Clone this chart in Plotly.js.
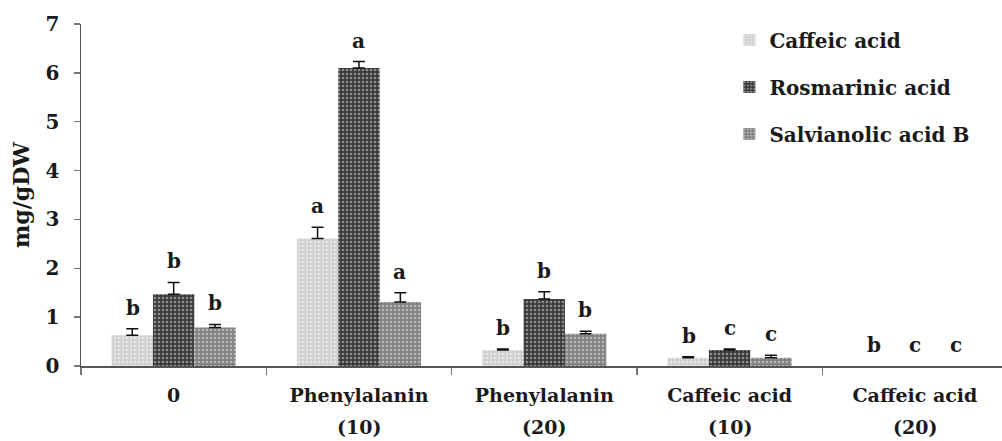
<!DOCTYPE html>
<html><head><meta charset="utf-8">
<script src="https://cdn.plot.ly/plotly-3.0.1.min.js"></script>
<style>html,body{margin:0;padding:0;background:#fff;}#chart{width:1002px;height:441px;}</style>
</head><body><div id="chart"></div>
<script>
const categories = ["0", "Phenylalanin (10)", "Phenylalanin (20)", "Caffeic acid (10)", "Caffeic acid (20)"];
const tickLine1 = ["0", "Phenylalanin", "Phenylalanin", "Caffeic acid", "Caffeic acid"];
const tickLine2 = ["", "(10)", "(20)", "(10)", "(20)"];
const seriesNames = ["Caffeic acid", "Rosmarinic acid", "Salvianolic acid B"];
// null = not detected (no bar drawn)
const caffeic = [0.63, 2.61, 0.33, 0.17, null];
const rosmarinic = [1.47, 6.10, 1.37, 0.33, null];
const salvianolic = [0.79, 1.31, 0.66, 0.17, null];
const caffeicErr = [0.13, 0.23, 0.02, 0.02, 0];
const rosmarinicErr = [0.24, 0.13, 0.15, 0.02, 0];
const salvianolicErr = [0.06, 0.19, 0.05, 0.05, 0];
const caffeicLetters = ["b", "a", "b", "b", "b"];
const rosmarinicLetters = ["b", "a", "b", "c", "c"];
const salvianolicLetters = ["b", "a", "b", "c", "c"];

const values = [caffeic, rosmarinic, salvianolic];
const errs = [caffeicErr, rosmarinicErr, salvianolicErr];
const letters = [caffeicLetters, rosmarinicLetters, salvianolicLetters];
const fills = ["#d0d0d0", "#3a3a3a", "#828282"];
const dots = ["#e8e8e8", "#8e8e8e", "#b4b4b4"];

const font = "DejaVu Serif, Liberation Serif, serif";
const ink = "#1a1a1a";
const traces = values.map((v, i) => ({
  type: "bar", name: seriesNames[i], x: categories, y: v,
  legendgroup: "g" + i,
  marker: {color: fills[i], line: {width: 0},
    pattern: {shape: ".", fgcolor: dots[i], bgcolor: fills[i], size: 4, solidity: 0.35}},
  error_y: {type: "data", array: errs[i], arrayminus: errs[i].map(() => 0), symmetric: false,
    color: "#111", thickness: 1.5, width: 6, visible: true}
}));

const barPx = 41;
const annotations = [];
values.forEach((v, i) => {
  v.forEach((val, j) => {
    annotations.push({
      x: categories[j], y: (val || 0) + (errs[i][j] || 0), xref: "x", yref: "y",
      text: "<b>" + letters[i][j] + "</b>", showarrow: false,
      xshift: (i - 1) * barPx, yshift: 21, yanchor: "middle",
      font: {family: font, size: 20, color: ink}
    });
  });
});
categories.forEach((c, j) => {
  if (tickLine2[j]) annotations.push({
    x: c, xref: "x", y: 0, yref: "paper", yanchor: "middle", yshift: -61,
    text: "<b>" + tickLine2[j] + "</b>", showarrow: false,
    font: {family: font, size: 19, color: ink}
  });
});

const layout = {
  width: 1002, height: 441,
  margin: {l: 81, r: 0, t: 24, b: 75},
  paper_bgcolor: "#fff", plot_bgcolor: "#fff",
  barmode: "group", bargap: 0.33, bargroupgap: 0,
  font: {family: font, color: ink},
  showlegend: true,
  xaxis: {type: "category", range: [-0.5, 4.47], showline: true, linecolor: "#555", linewidth: 1.5,
    ticks: "outside", tickson: "boundaries", ticklen: 7, tickcolor: "#777", tickwidth: 1.5,
    tickvals: categories, ticktext: tickLine1.map(t => "<b>" + t + "</b>"), ticklabelstandoff: 12,
    showgrid: false, zeroline: false,
    tickfont: {family: font, size: 19, color: ink}},
  yaxis: {range: [0, 7], dtick: 1, showline: true, linecolor: "#555", linewidth: 1.5,
    ticks: "outside", ticklen: 6, tickcolor: "#777", tickwidth: 1.5, ticklabelstandoff: 10,
    showgrid: false, zeroline: false,
    tickfont: {family: font, size: 20, color: ink, weight: "bold"},
    title: {text: "<b>mg/gDW</b>", font: {family: font, size: 22, color: ink}, standoff: 10}},
  legend: {x: 0.704, y: 1.01, xanchor: "left", yanchor: "top", bgcolor: "rgba(0,0,0,0)",
    traceorder: "grouped", tracegroupgap: 18, itemwidth: 30,
    font: {family: font, size: 20, color: ink, weight: "bold"}},
  annotations: annotations
};
Plotly.newPlot("chart", traces, layout, {displayModeBar: false, staticPlot: true});
</script></body></html>
